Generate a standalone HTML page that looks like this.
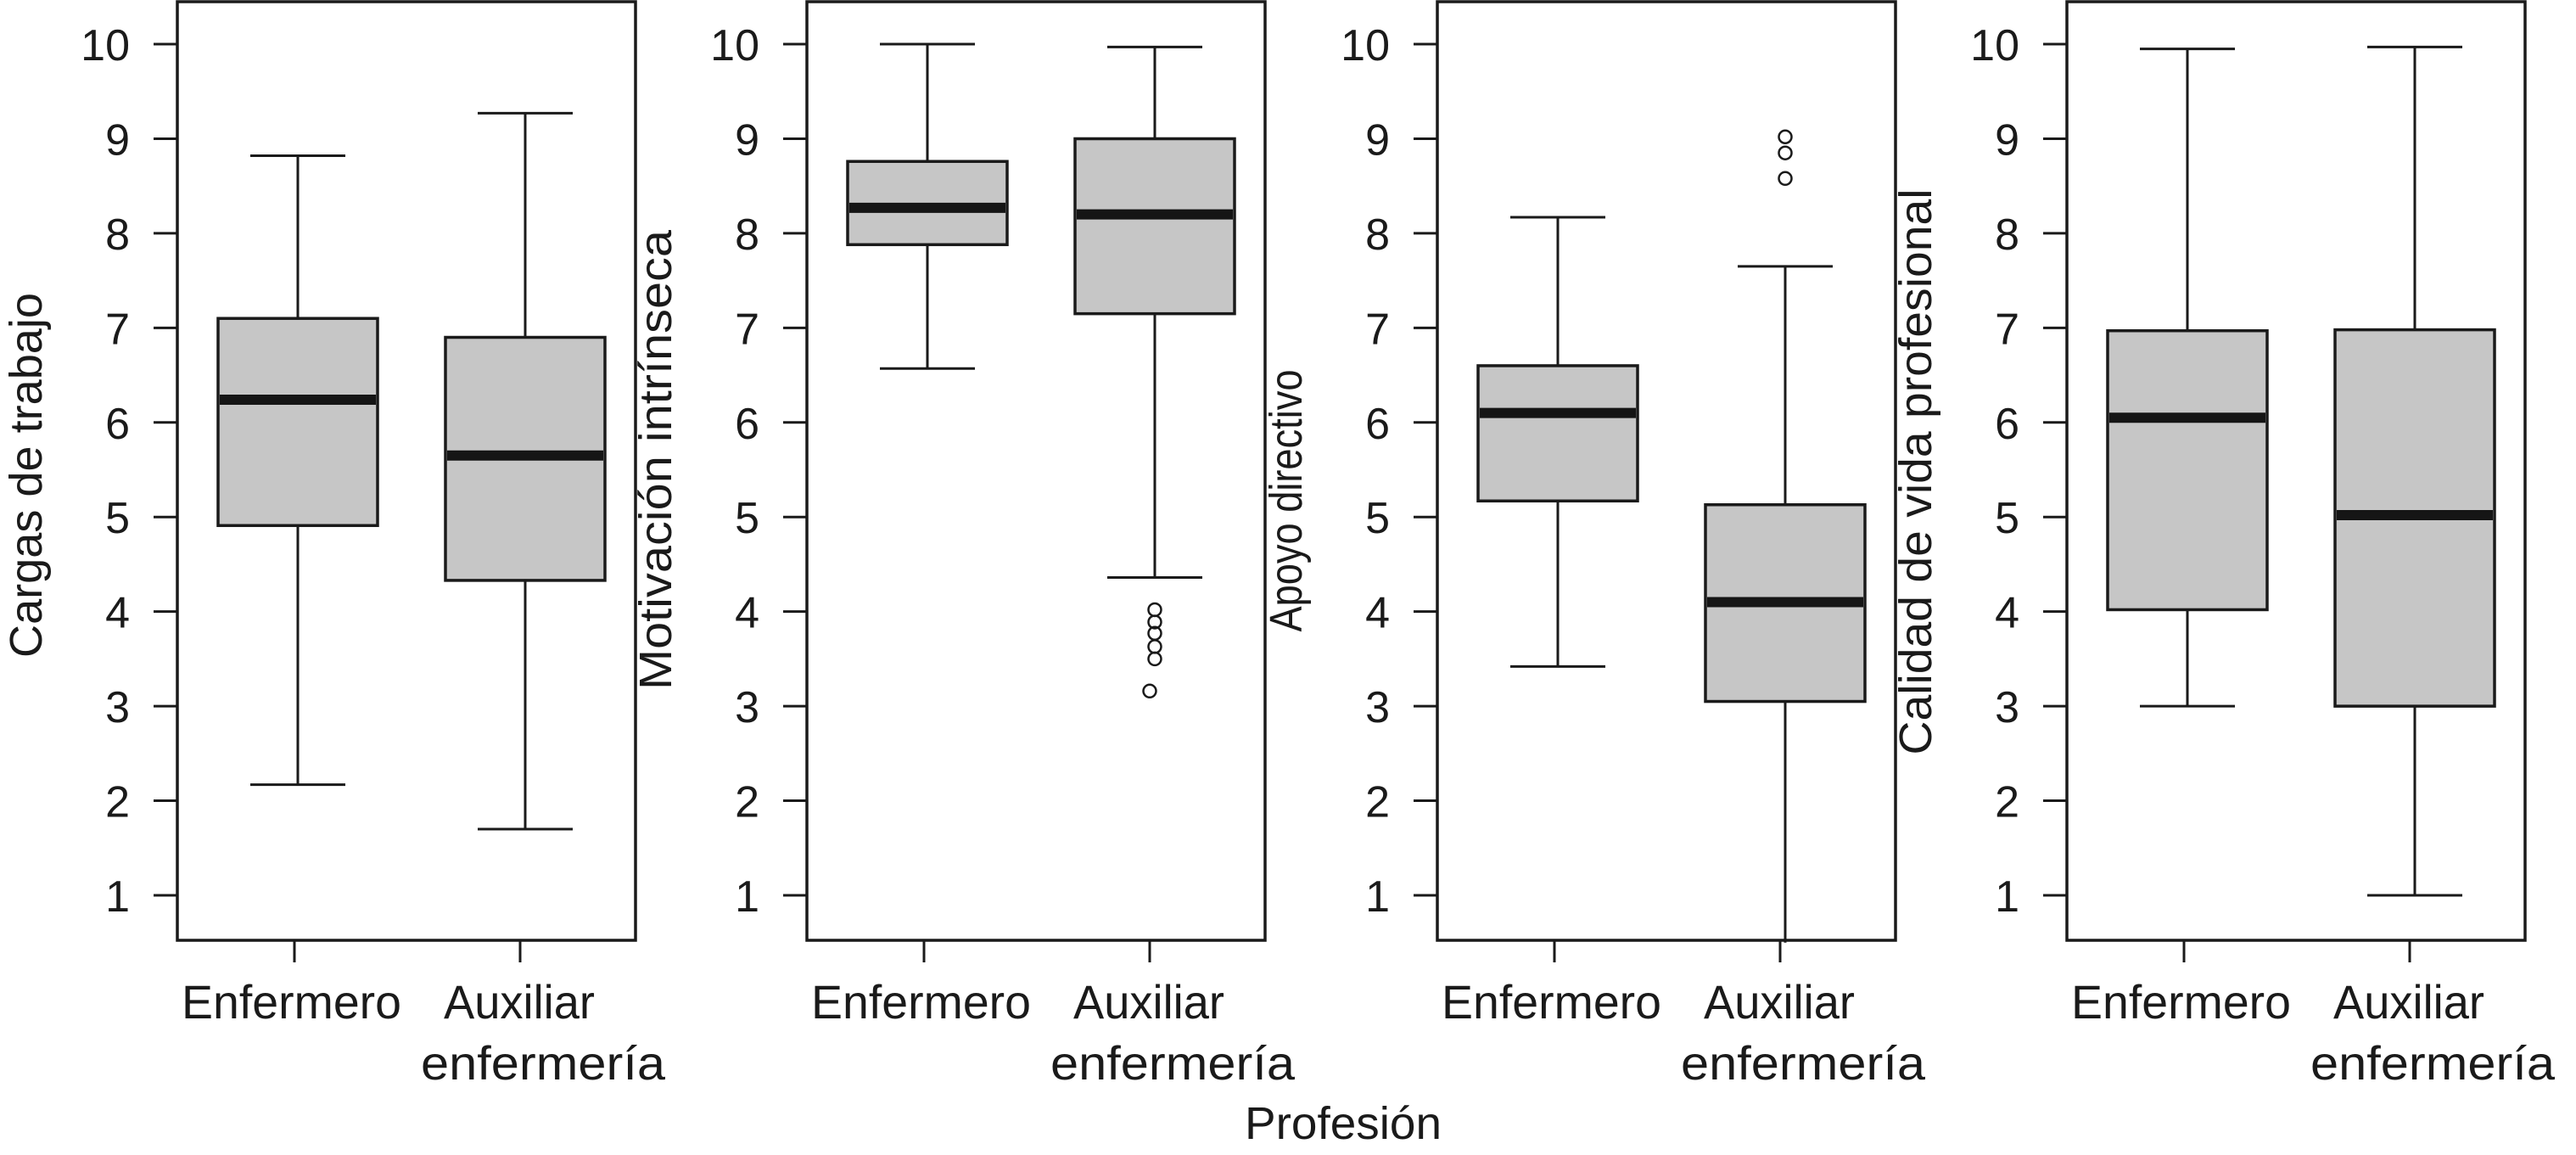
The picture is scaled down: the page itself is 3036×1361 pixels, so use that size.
<!DOCTYPE html>
<html><head><meta charset="utf-8"><style>
html,body{margin:0;padding:0;background:#fff;}
svg{display:block;font-family:"Liberation Sans",sans-serif;}
</style></head><body>
<svg id="chart" width="3036" height="1361" viewBox="0 0 3036 1361" xmlns="http://www.w3.org/2000/svg">
<text x="1583" y="1342" font-size="54" text-anchor="middle" textLength="232" lengthAdjust="spacingAndGlyphs" fill="#1a1a1a">Profesión</text>
</svg>
<script>
const panelTitles = ["Cargas de trabajo","Motivación intrínseca","Apoyo directivo","Calidad de vida profesional"];
const categories = ["Enfermero","Auxiliar enfermería"];
const enfStats = [[2.17,4.91,6.24,7.1,8.82],[6.57,7.88,8.27,8.76,10.0],[3.42,5.17,6.1,6.6,8.17],[3.0,4.02,6.05,6.97,9.95]];
const auxStats = [[1.7,4.33,5.65,6.9,9.27],[4.36,7.15,8.2,9.0,9.97],[0.5,3.05,4.1,5.13,7.65],[1.0,3.0,5.02,6.98,9.97]];
const enfOutliers = [[],[],[],[]];
const auxOutliers = [[],[4.02,3.89,3.77,3.63,3.5,3.16],[9.02,8.85,8.58],[]];
const yTicks = [1,2,3,4,5,6,7,8,9,10];

const NS="http://www.w3.org/2000/svg";
const svg=document.getElementById('chart');
const panelLefts=[209,951,1694,2436];
const PW=540, TOP=2, BOT=1108;
const titleLens=[430,542,309,667];
const titleY=[560,542,590,556];
function yScale(v){return 1055-(v-1)*111.44;}
function mk(tag,attrs,parent){const e=document.createElementNS(NS,tag);for(const k in attrs)e.setAttribute(k,attrs[k]);(parent||svg).appendChild(e);return e;}
const allStats=[enfStats,auxStats];
const allOut=[enfOutliers,auxOutliers];
const centers=[142,410];
const BW=188, CAP=56;
panelLefts.forEach((L,p)=>{
  const g=mk('g',{});
  
  
  const fr=mk('rect',{x:L,y:TOP,width:PW,height:BOT-TOP,fill:'none',stroke:'#1a1a1a','stroke-width':3.5},g);
  
  
  yTicks.forEach(t=>{
    const y=yScale(t);
    const tl=mk('line',{x1:L-28,x2:L,y1:y,y2:y,stroke:'#1a1a1a','stroke-width':3},g);
    
    
    const tx=mk('text',{x:L-56,y:y+19,'font-size':52,'text-anchor':'end',fill:'#1a1a1a'},g);
    
    
    tx.textContent=t;
  });
  const cx0=L-178, cy0=titleY[p];
  const tt=mk('text',{x:0,y:0,'font-size':54,'text-anchor':'middle',fill:'#1a1a1a',textLength:titleLens[p],lengthAdjust:'spacingAndGlyphs',transform:`translate(${cx0+18},${cy0}) rotate(-90)`},g);
  
  
  tt.textContent=panelTitles[p];
  [0,1].forEach(c=>{
    const cx=L+centers[c];
    const s=allStats[c][p];
    const xt=mk('line',{x1:L+(c?404:138),x2:L+(c?404:138),y1:BOT,y2:BOT+26,stroke:'#1a1a1a','stroke-width':3},g);
    
    
    const wl=mk('line',{x1:cx,x2:cx,y1:yScale(s[0]),y2:yScale(s[4]),stroke:'#1a1a1a','stroke-width':3},g);
    
    
    [s[0],s[4]].forEach(v=>{
      if(v<0.6) return;
      const cp=mk('line',{x1:cx-CAP,x2:cx+CAP,y1:yScale(v),y2:yScale(v),stroke:'#1a1a1a','stroke-width':3},g);
      
      
    });
    const bx=mk('rect',{x:cx-BW/2,y:yScale(s[3]),width:BW,height:yScale(s[1])-yScale(s[3]),fill:'#c6c6c6',stroke:'#1a1a1a','stroke-width':3.5},g);
    
    
    const md=mk('line',{x1:cx-BW/2+2,x2:cx+BW/2-2,y1:yScale(s[2]),y2:yScale(s[2]),stroke:'#151515','stroke-width':12},g);
    
    
    allOut[c][p].forEach((v,i)=>{
      const oc=mk('circle',{cx:cx+(v<3.3&&p===1?-6:0),cy:yScale(v),r:7.5,fill:'none',stroke:'#1a1a1a','stroke-width':2.5},g);
      
      
    });
  });
  const e=mk('text',{x:L+5,y:1200,'font-size':56,fill:'#1a1a1a',textLength:259,lengthAdjust:'spacingAndGlyphs'},g);
  
  
  e.textContent=categories[0];
  const parts=categories[1].split(' ');
  const a=mk('text',{x:L+314,y:1200,'font-size':56,fill:'#1a1a1a',textLength:178,lengthAdjust:'spacingAndGlyphs'},g);
  
  
  a.textContent=parts[0];
  const b=mk('text',{x:L+287,y:1272,'font-size':56,fill:'#1a1a1a',textLength:288,lengthAdjust:'spacingAndGlyphs'},g);
  
  
  b.textContent=parts[1];
});
</script>
</body></html>
